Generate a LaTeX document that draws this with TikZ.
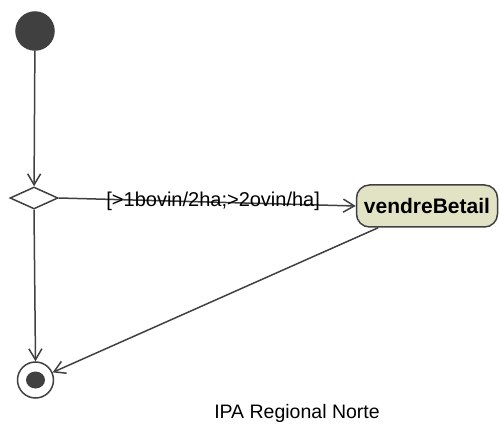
\documentclass[tikz,border=0pt]{standalone}
\usepackage{fontspec}
\setmainfont{Liberation Sans}
\usetikzlibrary{arrows.meta,shapes.geometric}
\definecolor{umlgray}{RGB}{64,64,64}
\definecolor{actfill}{RGB}{226,226,196}

\begin{document}
\begin{tikzpicture}[x=1pt, y=-1pt, >={Straight Barb[length=11pt,width=13pt]}, line width=1.5pt,
  initial/.style={circle, draw=umlgray, fill=umlgray, minimum size=38pt, inner sep=0pt},
  decision/.style={diamond, draw=umlgray, fill=white, minimum width=48pt, minimum height=22pt, inner sep=0pt},
  action/.style={rectangle, rounded corners=13pt, draw=umlgray, fill=actfill, minimum width=141pt,
    minimum height=42pt, inner sep=0pt, font=\bfseries\fontsize{21}{25}\selectfont},
  final/.style={circle, draw=umlgray, fill=white, minimum size=36pt, inner sep=0pt},
  finaldot/.style={ellipse, fill=umlgray, minimum width=19pt, minimum height=17pt, inner sep=0pt},
  guard/.style={font=\fontsize{20}{24}\selectfont, inner sep=0pt},
  flow/.style={draw=umlgray, ->}]
\useasboundingbox (0,0) rectangle (499,428);
\node[initial] (start) at (35,31) {};
\node[decision] (choice) at (34,198) {};
\node[action] (vendre) at (427,206) {vendreBetail};
\node[final] (stop) at (35.5,380) {};
\node[finaldot] (stopdot) at (stop) {};
\node[font=\fontsize{19.5}{23}\selectfont] (footer) at (297,413) {IPA Regional Norte};
\draw[flow] (start) -- (choice);
\draw[flow] (choice.east) -- node[guard, pos=0.52, anchor=base, yshift=-4pt] (cond) {[>1bovin/2ha;>2ovin/ha]} (vendre.west);
\draw[flow] (choice.south) -- (stop.north);
\draw[flow] (vendre) -- (stop);
\end{tikzpicture}
\end{document}
